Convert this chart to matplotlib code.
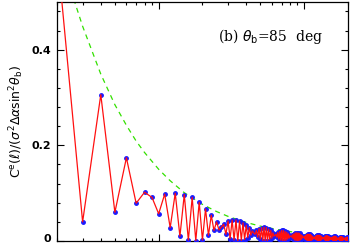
import matplotlib
matplotlib.use("Agg")
import matplotlib.pyplot as plt
import matplotlib.transforms as mtransforms
from matplotlib.ticker import MultipleLocator, LogLocator, NullFormatter

plt.rcParams["mathtext.fontset"] = "dejavusans"

# multipole index l = 2..200
ell = list(range(2, 201))
ce = [
    0.608, 0.040, 0.306, 0.060, 0.174, 0.079, 0.102, 0.091, 0.057,            # 2-10
    0.098, 0.028, 0.100, 0.010, 0.097, 0.002, 0.091, 0.001, 0.081, 0.002,     # 11-20
    0.067, 0.012, 0.054, 0.022, 0.040, 0.023, 0.029, 0.035, 0.014, 0.042,     # 21-30
    0.005, 0.044, 0.002, 0.044, 0.000, 0.042, 0.001, 0.038, 0.003, 0.033,     # 31-40
    0.007, 0.028, 0.012, 0.021, 0.017, 0.014, 0.022, 0.008, 0.026, 0.004,     # 41-50
    0.028, 0.001, 0.029, 0.000, 0.028, 0.001, 0.025, 0.003, 0.022, 0.006,     # 51-60
    0.017, 0.010, 0.012, 0.014, 0.008, 0.018, 0.004, 0.020, 0.002, 0.022,     # 61-70
    0.000, 0.022, 0.000, 0.020, 0.001, 0.018, 0.004, 0.015, 0.006, 0.011,     # 71-80
    0.010, 0.008, 0.013, 0.005, 0.015, 0.002, 0.017, 0.001, 0.017, 0.000,     # 81-90
    0.017, 0.001, 0.016, 0.002, 0.013, 0.004, 0.011, 0.007, 0.008, 0.009,     # 91-100
    0.005, 0.011, 0.003, 0.013, 0.001, 0.014, 0.000, 0.014, 0.000, 0.014,     # 101-110
    0.001, 0.012, 0.002, 0.010, 0.004, 0.008, 0.007, 0.005, 0.009, 0.003,     # 111-120
    0.011, 0.002, 0.012, 0.000, 0.012, 0.000, 0.012, 0.000, 0.011, 0.001,     # 121-130
    0.010, 0.003, 0.008, 0.005, 0.006, 0.007, 0.004, 0.008, 0.002, 0.010,     # 131-140
    0.001, 0.011, 0.000, 0.011, 0.000, 0.010, 0.001, 0.009, 0.002, 0.008,     # 141-150
    0.003, 0.006, 0.005, 0.004, 0.007, 0.003, 0.008, 0.001, 0.009, 0.000,     # 151-160
    0.010, 0.000, 0.010, 0.000, 0.009, 0.001, 0.008, 0.002, 0.006, 0.004,     # 161-170
    0.005, 0.005, 0.003, 0.007, 0.002, 0.008, 0.001, 0.009, 0.000, 0.009,     # 171-180
    0.000, 0.008, 0.001, 0.008, 0.002, 0.006, 0.003, 0.005, 0.004, 0.003,     # 181-190
    0.006, 0.002, 0.007, 0.001, 0.007, 0.000, 0.008, 0.000, 0.008, 0.000,     # 191-200
]

# dashed green envelope
env_ell = [2.5, 3, 4, 5, 6, 7, 8, 10, 12, 15, 20, 25, 30, 40, 50, 70, 100, 150, 200]
env_val = [0.523, 0.449, 0.349, 0.285, 0.242, 0.209, 0.185, 0.150, 0.126, 0.101,
           0.0766, 0.0616, 0.0515, 0.0388, 0.0311, 0.0223, 0.0156, 0.0104, 0.0078]

label_text = r"(b) $\theta_{\rm b}$=85  deg"
ylabel_text = r"C$^{\rm e}$($\ell$)/($\sigma^2\Delta\alpha$sin$^2\theta_{\rm b}$)"

fig = plt.figure(figsize=(3.53, 2.45), dpi=100)
ax = fig.add_axes([0.1615, 0.0163, 0.824, 0.976])

ax.plot(env_ell, env_val, color="#33e000", lw=0.9, ls=(0, (4, 3.5)), zorder=2)
ax.plot(ell, ce, ls="none", marker="o", ms=2.5, mfc="#1a1aff", mec="#1a1aff", zorder=3)
ax.plot(ell, ce, color="#ff1010", lw=0.9, zorder=4)

ax.set_xscale("log")
ax.set_xlim(2, 200)
ax.set_ylim(0, 0.5)

ax.xaxis.set_major_locator(LogLocator(base=10, numticks=10))
ax.xaxis.set_minor_locator(LogLocator(base=10, subs=range(2, 10), numticks=20))
ax.xaxis.set_major_formatter(NullFormatter())
ax.xaxis.set_minor_formatter(NullFormatter())

ax.yaxis.set_major_locator(MultipleLocator(0.2))
ax.yaxis.set_minor_locator(MultipleLocator(0.04))
ax.set_yticks([0, 0.2, 0.4])
ax.set_yticklabels(["0", "0.2", "0.4"])

ax.tick_params(which="both", direction="in", top=True, right=True, width=0.8)
ax.tick_params(which="major", length=5, labelsize=8, pad=4)
ax.tick_params(which="minor", length=2.5)
for lab in ax.get_yticklabels():
    lab.set_fontweight("bold")
for s in ax.spines.values():
    s.set_linewidth(0.9)

# nudge the "0" label up a little so it is not clipped by the figure edge
zero_tick = ax.yaxis.get_major_ticks()[0]
zero_tick.label1.set_transform(
    zero_tick.label1.get_transform()
    + mtransforms.ScaledTranslation(0, 2.5 / 72, fig.dpi_scale_trans))

ax.set_ylabel(ylabel_text, fontsize=9, labelpad=4)
ax.text(0.555, 0.855, label_text, transform=ax.transAxes, fontsize=10,
        family="DejaVu Serif", ha="left", va="center")

fig.savefig("out.png", dpi=100)
